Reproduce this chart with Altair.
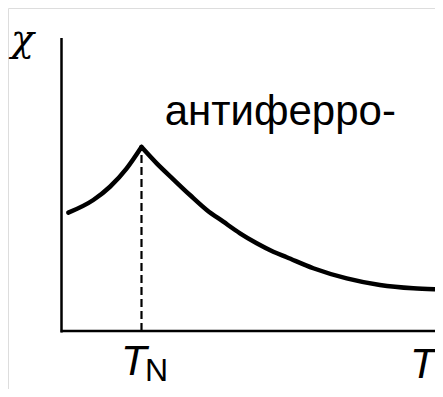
import altair as alt
import pandas as pd

# Curve (T in units of T_N, chi in units of chi(T_N))
left_T = [0.085, 0.3975, 0.606, 0.815, 1.0]
left_chi = [0.643, 0.712, 0.784, 0.884, 1.0]
right_T = [1.0, 1.19, 1.3975, 1.606, 1.815, 2.0225, 2.231, 2.44, 2.6475,
           2.815, 3.1475, 3.565, 3.98, 4.3975, 4.66]
right_chi = [1.0, 0.911, 0.8245, 0.739, 0.658, 0.594, 0.531, 0.477, 0.431,
             0.401, 0.341, 0.286, 0.25, 0.232, 0.227]

TN = 1.0
chi_peak = 1.0

x_dom = [-0.66875, 4.66875]
y_dom = [-0.3152, 1.7554]

curve = pd.DataFrame({
    "T": left_T + right_T,
    "chi": left_chi + right_chi,
    "branch": ["low"] * len(left_T) + ["high"] * len(right_T),
})

xs = alt.Scale(domain=x_dom, nice=False, zero=False)
ys = alt.Scale(domain=y_dom, nice=False, zero=False)
X = lambda f: alt.X(f, type="quantitative", scale=xs, axis=None)
Y = lambda f: alt.Y(f, type="quantitative", scale=ys, axis=None)

line = alt.Chart(curve).mark_line(
    color="black", strokeWidth=4.5, interpolate="monotone", strokeCap="round"
).encode(x=X("T"), y=Y("chi"), detail="branch:N")

axes_df = pd.DataFrame({
    "x1": [0.0, -0.01], "x2": [0.0, x_dom[1]],
    "y1": [-0.008, 0.0], "y2": [1.592, 0.0],
})
axes = alt.Chart(axes_df).mark_rule(color="black", strokeWidth=2.5).encode(
    x=X("x1"), x2="x2", y=Y("y1"), y2="y2"
)

dash = alt.Chart(pd.DataFrame({"T": [TN], "c0": [0.0], "c1": [chi_peak]})).mark_rule(
    color="black", strokeWidth=2.2, strokeDash=[8, 4]
).encode(x=X("T"), y=Y("c0"), y2="c1")

sans = "Liberation Sans"

label_df = pd.DataFrame({"T": [1.29], "chi": [1.1196], "t": ["антиферро-"]})
label = alt.Chart(label_df).mark_text(
    font=sans, fontSize=42, align="left", baseline="alphabetic", color="black"
).encode(x=X("T"), y=Y("chi"), text="t:N")

chi_df = pd.DataFrame({"T": [-0.63], "chi": [1.522], "t": ["χ"]})
chi_lab = alt.Chart(chi_df).mark_text(
    font="DejaVu Serif", fontStyle="italic", fontSize=38, align="left",
    baseline="alphabetic", color="black"
).encode(x=X("T"), y=Y("chi"), text="t:N")

T_df = pd.DataFrame({"T": [0.744, 4.356], "chi": [-0.2391, -0.2554], "t": ["T", "T"]})
T_lab = alt.Chart(T_df).mark_text(
    font=sans, fontStyle="italic", fontSize=42, align="left",
    baseline="alphabetic", color="black"
).encode(x=X("T"), y=Y("chi"), text="t:N")

N_df = pd.DataFrame({"T": [1.044], "chi": [-0.2717], "t": ["N"]})
N_lab = alt.Chart(N_df).mark_text(
    font=sans, fontSize=32, align="left", baseline="alphabetic", color="black"
).encode(x=X("T"), y=Y("chi"), text="t:N")

chart = alt.layer(axes, dash, line, label, chi_lab, T_lab, N_lab).properties(
    width=427, height=381, padding=0, autosize=alt.AutoSizeParams(type="none")
).configure_view(stroke=None).configure(background="white")

chart.save("out.html", embed_options={"renderer": "svg", "actions": False})
